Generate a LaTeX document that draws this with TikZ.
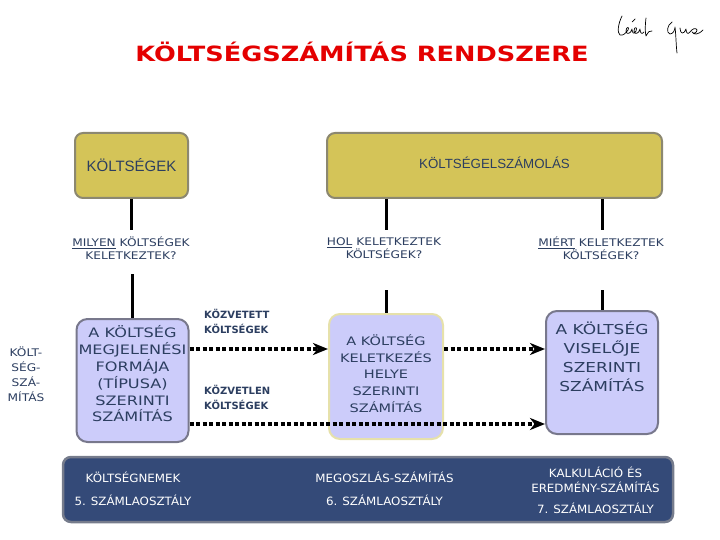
\documentclass[tikz,border=0pt]{standalone}
\usepackage{fontspec}
\setmainfont{DejaVu Sans}
\newfontfamily\titlefont[FakeStretch=1.22]{DejaVu Sans}
\newfontfamily\headfont{Liberation Sans}
\newfontfamily\pixfont[FakeStretch=1.16]{DejaVu Sans}
\newfontfamily\boxfont[FakeStretch=1.24]{DejaVu Sans}
\newfontfamily\barfont[FakeStretch=1.04]{DejaVu Sans}
\usepackage{tikz}
\usetikzlibrary{arrows.meta,positioning}
\definecolor{costolive}{RGB}{212,196,88}
\definecolor{costedge}{RGB}{140,136,112}
\definecolor{calclav}{RGB}{204,204,250}
\definecolor{calcedge}{RGB}{120,120,140}
\definecolor{placeedge}{RGB}{230,225,170}
\definecolor{labelnavy}{RGB}{44,62,96}
\definecolor{barblue}{RGB}{52,74,120}
\definecolor{baredge}{RGB}{118,124,140}
\definecolor{titlered}{RGB}{228,0,0}

\tikzset{
  headbox/.style={draw=costedge, line width=2pt, fill=costolive, rounded corners=8pt, text=labelnavy, minimum height=65pt},
  calcbox/.style={draw=calcedge, line width=2pt, fill=calclav, rounded corners=11pt, minimum width=112pt, minimum height=123pt, inner sep=0pt},
  calctext/.style={text=labelnavy, align=center, inner sep=0pt},
  question/.style={text=labelnavy, align=center, font=\pixfont\fontsize{10.5}{13}\selectfont, inner sep=1pt},
  flowlabel/.style={text=labelnavy, align=left, font=\bfseries\fontsize{10}{15}\selectfont, inner sep=0pt, anchor=west},
  barlabel/.style={text=white, align=center, font=\barfont\fontsize{11.4}{15}\selectfont},
  conn/.style={line width=3pt},
  dotarrow/.style={line width=3.5pt, dash pattern=on 4pt off 2.5pt, -{Stealth[length=15pt,width=12pt,inset=4.5pt]}},
}

\begin{document}
\begin{tikzpicture}[x=1pt,y=-1pt]
\useasboundingbox (0,0) rectangle (720,540);

% title and signature
\node[text=titlered, font=\titlefont\bfseries\fontsize{21}{24}\selectfont] (title) at (362,52) {KÖLTSÉGSZÁMÍTÁS RENDSZERE};
\draw[line width=0.7pt, line cap=round, line join=round]
  (622,16) .. controls (618,24) and (617,33) .. (620,35) .. controls (623,36) and (626,33) .. (628,30)
  .. controls (630,27) and (626,26) .. (626,31) .. controls (626,35) and (631,34) .. (632,29)
  .. controls (632,33) and (634,35) .. (636,31) .. controls (638,27) and (634,26) .. (634,31)
  .. controls (634,35) and (639,34) .. (640,29) .. controls (640,33) and (642,35) .. (644,32);
\draw[line width=0.7pt, line cap=round] (632,22) -- (635,19);
\draw[line width=0.7pt, line cap=round, line join=round]
  (646,18) .. controls (645,26) and (645,32) .. (646,36) .. controls (648,32) and (650,30) .. (652,31);
\draw[line width=0.7pt, line cap=round, line join=round]
  (672,22) .. controls (667,25) and (666,33) .. (670,34) .. controls (673,34) and (675,30) .. (675,27)
  .. controls (676,35) and (676,45) .. (677,53);
\draw[line width=0.7pt, line cap=round, line join=round]
  (680,28) .. controls (680,34) and (684,35) .. (686,29) .. controls (686,33) and (688,35) .. (690,32)
  .. controls (692,29) and (696,27) .. (697,30) .. controls (697,33) and (693,34) .. (692,32)
  .. controls (694,35) and (698,35) .. (703,30);

% head boxes
\node[headbox, minimum width=113pt, font=\headfont\fontsize{15}{17}\selectfont] (costs) at (131.5,165.5) {KÖLTSÉGEK};
\node[headbox, minimum width=335pt, font=\headfont\fontsize{13.3}{15}\selectfont, text depth=5pt] (acct) at (494.5,165.5) {KÖLTSÉGELSZÁMOLÁS};

% questions
\node[question] (whatq) at (131,248.5) {\underline{MILYEN} KÖLTSÉGEK\\KELETKEZTEK?};
\node[question] (whereq) at (384,248.5) {\underline{HOL} KELETKEZTEK\\KÖLTSÉGEK?};
\node[question] (whyq) at (601,248.5) {\underline{MIÉRT} KELETKEZTEK\\KÖLTSÉGEK?};

% calculation boxes
\node[calcbox] (typebox) at (132.5,380.5) {};
\node[calctext, font=\boxfont\fontsize{13}{16.8}\selectfont, yshift=6.5pt] (typetxt) at (typebox) {A KÖLTSÉG\\MEGJELENÉSI\\FORMÁJA\\(TÍPUSA)\\SZERINTI\\SZÁMÍTÁS};
\node[calcbox, draw=placeedge, minimum width=114pt, minimum height=125pt] (placebox) at (386,376.5) {};
\node[calctext, font=\boxfont\fontsize{11.7}{16.7}\selectfont, yshift=3pt] (placetxt) at (placebox) {A KÖLTSÉG\\KELETKEZÉS\\HELYE\\SZERINTI\\SZÁMÍTÁS};
\node[calcbox] (bearerbox) at (602,372.5) {};
\node[calctext, font=\boxfont\fontsize{13.7}{19}\selectfont, yshift=15.5pt] (bearertxt) at (bearerbox) {A KÖLTSÉG\\VISELŐJE\\SZERINTI\\SZÁMÍTÁS};

% vertical connectors
\draw[conn] (costs.south) -- (costs.south |- 0,230);
\draw[conn] (placebox.north |- acct.south) -- (placebox.north |- 0,230);
\draw[conn] (bearerbox.north |- acct.south) -- (bearerbox.north |- 0,230);
\draw[conn] (typebox.north |- 0,274) -- (typebox.north);
\draw[conn] (placebox.north |- 0,290) -- (placebox.north);
\draw[conn] (bearerbox.north |- 0,290) -- (bearerbox.north);

% dotted flows
\coordinate (indirect) at (0,349);
\coordinate (direct) at (0,424);
\draw[dotarrow] (typebox.east |- indirect) -- (placebox.west |- indirect);
\draw[dotarrow] (placebox.east |- indirect) -- (bearerbox.west |- indirect);
\draw[dotarrow] (typebox.east |- direct) -- (bearerbox.west |- direct);
\node[flowlabel] (indirectlbl) at (204,321) {KÖZVETETT\\KÖLTSÉGEK};
\node[flowlabel] (directlbl) at (204,397) {KÖZVETLEN\\KÖLTSÉGEK};

% side label
\node[text=labelnavy, align=center, font=\pixfont\fontsize{10.5}{15}\selectfont] (sidelbl) at (26,374) {KÖLT-\\SÉG-\\SZÁ-\\MÍTÁS};

% account classes bar
\node[draw=baredge, line width=2.5pt, fill=barblue, rounded corners=8pt, minimum width=610pt, minimum height=65pt] (bar) at (368,489.5) {};
\node[barlabel] (kinds) at (133,488.5) {KÖLTSÉGNEMEK\\[8pt]5. SZÁMLAOSZTÁLY};
\node[barlabel] (split) at (384.5,488.5) {MEGOSZLÁS-SZÁMÍTÁS\\[8pt]6. SZÁMLAOSZTÁLY};
\node[barlabel] (calc) at (595.5,490) {KALKULÁCIÓ ÉS\\EREDMÉNY-SZÁMÍTÁS\\[6pt]7. SZÁMLAOSZTÁLY};
\end{tikzpicture}
\end{document}
